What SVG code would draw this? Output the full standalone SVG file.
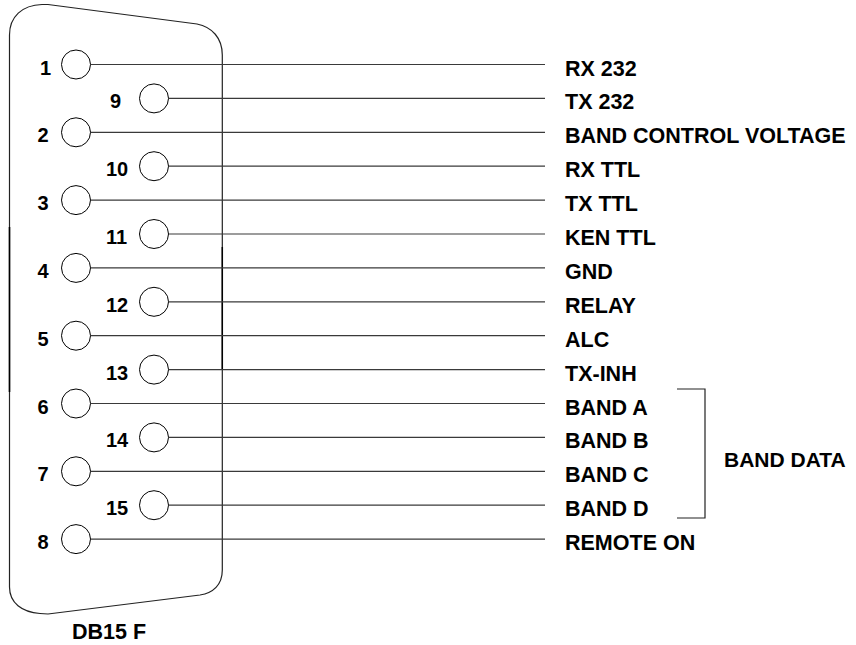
<svg xmlns="http://www.w3.org/2000/svg" width="856" height="645" viewBox="0 0 856 645">
<style>
.t{font-family:"Liberation Sans",Arial,sans-serif;font-weight:bold;font-size:21.5px;fill:#000}
.n{font-family:"Liberation Sans",Arial,sans-serif;font-weight:bold;font-size:20px;fill:#000}
.pin{fill:#fff;stroke:#000;stroke-width:1}
.w{stroke:#3a3a3a;stroke-width:1.2;fill:none}
.shell{fill:none;stroke:#222;stroke-width:1.2}
</style>
<rect width="856" height="645" fill="#fff"/>
<g id="shell">
<path class="shell" d="M9.5,587 L9.5,35 C9.5,17 22,5 42,4.5 L48,4.5 L197,24 C212,27 222.3,38 222.3,55 L222.3,570 C222.3,585 213,593 200,595 L48,614 L40,613.5 C22,612 9.5,603 9.5,587 Z"/>
<line x1="9.5" y1="227" x2="9.5" y2="392" stroke="#000" stroke-width="1.6"/>
<line x1="222.3" y1="247" x2="222.3" y2="370" stroke="#000" stroke-width="1.5"/>
</g>
<g id="connectors">
<line class="w" x1="90.5" y1="64.5" x2="545" y2="64.5"/>
<line class="w" x1="168.5" y1="98.4" x2="545" y2="98.4"/>
<line class="w" x1="90.5" y1="132.3" x2="545" y2="132.3"/>
<line class="w" x1="168.5" y1="166.2" x2="545" y2="166.2"/>
<line class="w" x1="90.5" y1="200.1" x2="545" y2="200.1"/>
<line class="w" x1="168.5" y1="234" x2="545" y2="234"/>
<line class="w" x1="90.5" y1="267.9" x2="545" y2="267.9"/>
<line class="w" x1="168.5" y1="301.8" x2="545" y2="301.8"/>
<line class="w" x1="90.5" y1="335.7" x2="545" y2="335.7"/>
<line class="w" x1="168.5" y1="369.6" x2="545" y2="369.6"/>
<line class="w" x1="90.5" y1="403.5" x2="545" y2="403.5"/>
<line class="w" x1="168.5" y1="437.4" x2="545" y2="437.4"/>
<line class="w" x1="90.5" y1="471.3" x2="545" y2="471.3"/>
<line class="w" x1="168.5" y1="505.2" x2="545" y2="505.2"/>
<line class="w" x1="90.5" y1="539.1" x2="545" y2="539.1"/>
<polyline id="bracket" points="677,389 705,389 705,518 677,518" fill="none" stroke="#222" stroke-width="1.2"/>
</g>
<g id="pin1"><circle class="pin" cx="76" cy="64.5" r="14.5"/><text class="n" x="40" y="74.5">1</text><text class="t" x="565" y="75.5">RX 232</text></g>
<g id="pin9"><circle class="pin" cx="154" cy="98.4" r="14.5"/><text class="n" x="110" y="108.4">9</text><text class="t" x="565" y="109.4">TX 232</text></g>
<g id="pin2"><circle class="pin" cx="76" cy="132.3" r="14.5"/><text class="n" x="37.5" y="142.3">2</text><text class="t" x="565" y="143.3">BAND CONTROL VOLTAGE</text></g>
<g id="pin10"><circle class="pin" cx="154" cy="166.2" r="14.5"/><text class="n" x="106" y="176.2">10</text><text class="t" x="565" y="177.2">RX TTL</text></g>
<g id="pin3"><circle class="pin" cx="76" cy="200.1" r="14.5"/><text class="n" x="37.5" y="210.1">3</text><text class="t" x="565" y="211.1">TX TTL</text></g>
<g id="pin11"><circle class="pin" cx="154" cy="234" r="14.5"/><text class="n" x="106" y="244">11</text><text class="t" x="565" y="245">KEN TTL</text></g>
<g id="pin4"><circle class="pin" cx="76" cy="267.9" r="14.5"/><text class="n" x="37.5" y="277.9">4</text><text class="t" x="565" y="278.9">GND</text></g>
<g id="pin12"><circle class="pin" cx="154" cy="301.8" r="14.5"/><text class="n" x="106" y="311.8">12</text><text class="t" x="565" y="312.8">RELAY</text></g>
<g id="pin5"><circle class="pin" cx="76" cy="335.7" r="14.5"/><text class="n" x="37.5" y="345.7">5</text><text class="t" x="565" y="346.7">ALC</text></g>
<g id="pin13"><circle class="pin" cx="154" cy="369.6" r="14.5"/><text class="n" x="106" y="379.6">13</text><text class="t" x="565" y="380.6">TX-INH</text></g>
<g id="pin6"><circle class="pin" cx="76" cy="403.5" r="14.5"/><text class="n" x="37.5" y="413.5">6</text><text class="t" x="565" y="414.5">BAND A</text></g>
<g id="pin14"><circle class="pin" cx="154" cy="437.4" r="14.5"/><text class="n" x="106" y="447.4">14</text><text class="t" x="565" y="448.4">BAND B</text></g>
<g id="pin7"><circle class="pin" cx="76" cy="471.3" r="14.5"/><text class="n" x="37.5" y="481.3">7</text><text class="t" x="565" y="482.3">BAND C</text></g>
<g id="pin15"><circle class="pin" cx="154" cy="505.2" r="14.5"/><text class="n" x="106" y="515.2">15</text><text class="t" x="565" y="516.2">BAND D</text></g>
<g id="pin8"><circle class="pin" cx="76" cy="539.1" r="14.5"/><text class="n" x="37.5" y="549.1">8</text><text class="t" x="565" y="550.1">REMOTE ON</text></g>
<g id="band-data"><text class="t" x="724" y="467" style="font-size:21px">BAND DATA</text></g>
<g id="title"><text class="t" x="72" y="639">DB15 F</text></g>
</svg>
